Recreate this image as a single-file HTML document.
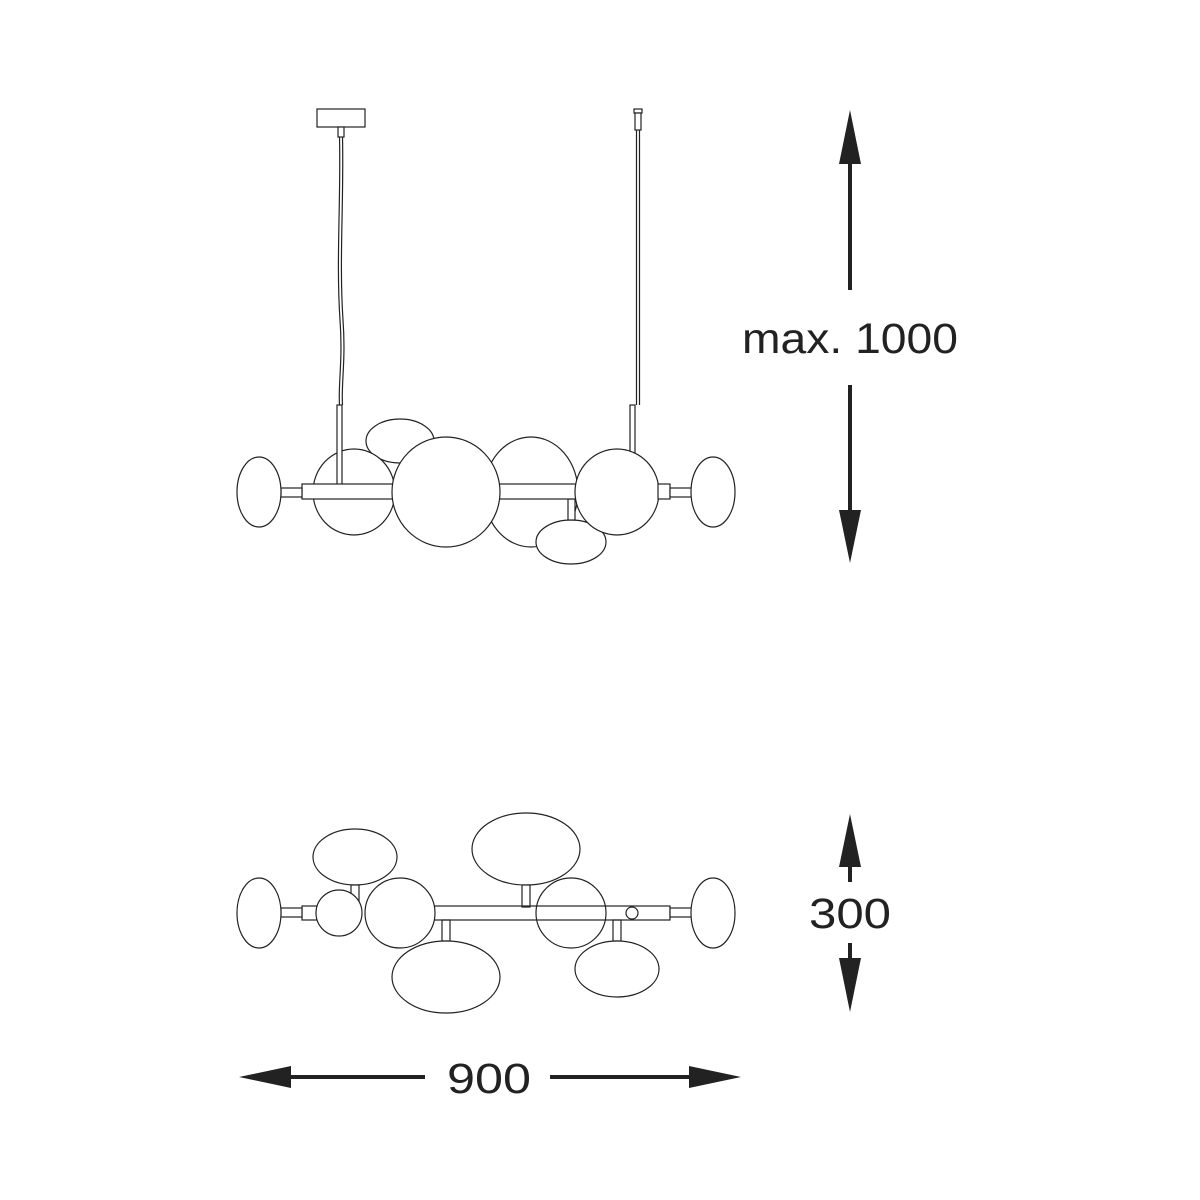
<!DOCTYPE html>
<html><head><style>html,body{margin:0;padding:0;background:#fff}svg{display:block}</style></head>
<body>
<svg width="1200" height="1200" viewBox="0 0 1200 1200" xmlns="http://www.w3.org/2000/svg">
<g fill="#fff" stroke="#222" stroke-width="1.2">
<!-- top view: suspension -->
<rect x="317" y="109" width="48" height="18"/>
<rect x="338" y="127" width="6" height="10"/>
<path d="M339.5 137 C341 200 336 260 340 320 C343 360 338 385 339.5 405" fill="none"/>
<path d="M342.5 137 C344 200 339 260 343 320 C346 360 341 385 342.5 405" fill="none"/>
<rect x="634" y="109" width="8" height="4"/>
<rect x="635" y="113" width="6" height="17"/>
<line x1="636.5" y1="130" x2="636.5" y2="405"/>
<line x1="639.5" y1="130" x2="639.5" y2="405"/>
<!-- top view body -->
<ellipse cx="400" cy="441" rx="34" ry="22"/>
<ellipse cx="531" cy="492" rx="47" ry="55"/>
<ellipse cx="571" cy="542" rx="35" ry="22"/>
<rect x="568" y="499" width="7" height="21"/>
<ellipse cx="354" cy="492" rx="41" ry="43"/>
<rect x="337" y="405" width="5" height="80"/>
<rect x="630" y="405" width="5" height="50"/>
<rect x="302" y="484" width="275" height="15"/>
<rect x="281" y="488" width="21" height="9"/>
<ellipse cx="259" cy="492" rx="22" ry="35"/>
<ellipse cx="446" cy="492" rx="54" ry="55"/>
<ellipse cx="617" cy="492" rx="42" ry="43"/>
<rect x="658" y="484" width="12" height="15"/>
<rect x="670" y="488" width="22" height="9"/>
<ellipse cx="713" cy="492" rx="22" ry="35"/>
<!-- bottom view -->
<ellipse cx="355" cy="857" rx="42" ry="28"/>
<rect x="351" y="885" width="8" height="22"/>
<ellipse cx="526" cy="849" rx="54" ry="36"/>
<rect x="522" y="885" width="8" height="22"/>
<ellipse cx="571" cy="913" rx="35" ry="35"/>
<rect x="442" y="920" width="8" height="21"/>
<rect x="613" y="920" width="8" height="21"/>
<ellipse cx="446" cy="977" rx="54" ry="36"/>
<ellipse cx="617" cy="969" rx="42" ry="28"/>
<rect x="434" y="906" width="236" height="14" fill="none"/>
<circle cx="632" cy="913" r="6"/>
<rect x="302" y="906" width="15" height="14"/>
<rect x="281" y="908" width="21" height="9"/>
<ellipse cx="259" cy="913" rx="22" ry="35"/>
<circle cx="339" cy="913" r="23"/>
<circle cx="400" cy="913" r="35"/>
<rect x="670" y="908" width="22" height="9"/>
<ellipse cx="713" cy="913" rx="22" ry="35"/>
</g>
<!-- dimension arrows -->
<g fill="#222" stroke="none">
<polygon points="850,110 839,164 861,164"/>
<rect x="848" y="160" width="4" height="130"/>
<rect x="848" y="385" width="4" height="130"/>
<polygon points="850,563 839,510 861,510"/>
<polygon points="850,814 839,867 861,867"/>
<rect x="848" y="862" width="4" height="20"/>
<rect x="848" y="943" width="4" height="20"/>
<polygon points="850,1012 839,958 861,958"/>
<polygon points="239,1077 291,1066 291,1088"/>
<rect x="288" y="1075" width="137" height="4"/>
<rect x="550" y="1075" width="140" height="4"/>
<polygon points="741,1077 689,1066 689,1088"/>
</g>
<g font-family="'Liberation Sans', sans-serif" fill="#222" font-size="43">
<text x="742" y="353" textLength="216" lengthAdjust="spacingAndGlyphs">max. 1000</text>
<text x="809" y="928" textLength="82" lengthAdjust="spacingAndGlyphs">300</text>
<text x="447" y="1093" textLength="84" lengthAdjust="spacingAndGlyphs">900</text>
</g>
</svg>
</body></html>
